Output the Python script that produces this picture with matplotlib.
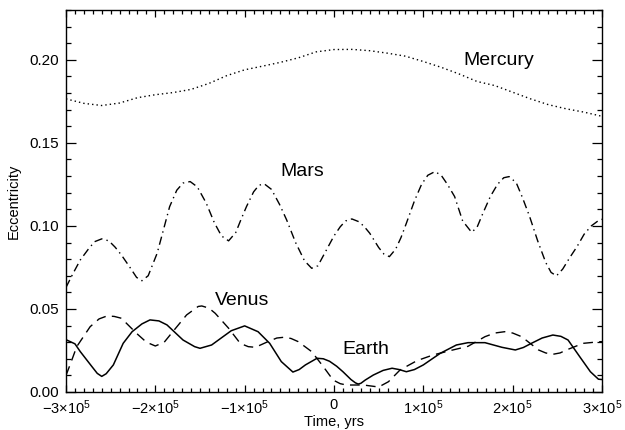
import numpy as np
import matplotlib
matplotlib.use('Agg')
import matplotlib.pyplot as plt
from matplotlib.ticker import MultipleLocator, FixedLocator

plt.rcParams['font.family'] = ['Liberation Sans', 'DejaVu Sans']
plt.rcParams['mathtext.fontset'] = 'custom'
plt.rcParams['mathtext.rm'] = 'Liberation Sans'
plt.rcParams['mathtext.it'] = 'Liberation Sans'

# time in units of 1e4 years, eccentricity
mercury_t = [-30, -28, -26, -24, -22, -20, -18, -16, -14, -12, -10, -8, -6, -4, -2,
             0, 2, 4, 6, 8, 10, 12, 14, 16, 18, 20, 22, 24, 26, 28, 30]
mercury_e = [0.1765, 0.1738, 0.1725, 0.1740, 0.1772, 0.1790, 0.1803, 0.1822, 0.1858,
             0.1905, 0.1940, 0.1962, 0.1985, 0.2012, 0.2048, 0.2062, 0.2063, 0.2055,
             0.2040, 0.2022, 0.1990, 0.1955, 0.1915, 0.1870, 0.1845, 0.1805, 0.1765,
             0.1730, 0.1705, 0.1685, 0.1660]

mars_t = [-30, -29.2, -28.4, -27.5, -26.8, -26.0, -25.2, -24.5, -23.8, -22.9, -22.1,
          -21.5, -20.8, -19.8, -19.1, -18.4, -17.6, -16.9, -16.1, -15.3, -14.3, -13.4,
          -12.6, -11.8, -11.0, -10.4, -9.8, -9.0, -8.4, -7.8, -7.0, -6.1, -5.3, -4.3,
          -3.3, -2.5, -1.8, -0.9, 0.0, 0.7, 1.3, 2.0, 2.8, 3.4, 4.0, 5.0, 5.6, 6.2,
          6.9, 7.5, 8.1, 9.0, 9.8, 10.5, 11.3, 12.0, 12.7, 13.5, 14.4, 15.4, 16.0,
          16.7, 17.5, 18.3, 19.0, 19.6, 20.4, 21.1, 21.9, 22.8, 23.7, 24.3, 24.9,
          25.6, 26.4, 27.2, 28.0, 28.8, 29.6, 30.0]
mars_e = [0.0630, 0.0715, 0.0795, 0.0860, 0.0905, 0.0922, 0.0910, 0.0872, 0.0825,
          0.0755, 0.0690, 0.0670, 0.0700, 0.0835, 0.0975, 0.1116, 0.1215, 0.1258,
          0.1267, 0.1235, 0.1137, 0.1020, 0.0940, 0.0910, 0.0960, 0.1040, 0.1116,
          0.1205, 0.1245, 0.1253, 0.1220, 0.1130, 0.1036, 0.0900, 0.0790, 0.0745,
          0.0760, 0.0850, 0.0940, 0.0995, 0.1030, 0.1042, 0.1025, 0.0995, 0.0956,
          0.0870, 0.0830, 0.0815, 0.0860, 0.0930, 0.1016, 0.1150, 0.1250, 0.1305,
          0.1327, 0.1305, 0.1250, 0.1177, 0.1030, 0.0962, 0.0990, 0.1080, 0.1177,
          0.1250, 0.1290, 0.1297, 0.1260, 0.1170, 0.1056, 0.0910, 0.0780, 0.0720,
          0.0699, 0.0740, 0.0810, 0.0875, 0.0950, 0.1000, 0.1032, 0.1040]

venus_t = [-30, -29.5, -28.8, -27.3, -26.3, -25.4, -24.6, -23.8, -22.1, -21.0, -20.0,
           -19.0, -18.2, -16.5, -15.2, -14.8, -14.0, -13.3, -11.8, -10.5, -9.6, -8.8,
           -7.4, -6.4, -5.5, -4.8, -4.0, -2.5, -1.2, -0.1, 0.7, 1.4, 3.3, 5.0, 6.1,
           7.4, 9.3, 11.1, 13.0, 15.0, 16.9, 18.0, 19.1, 20.0, 21.0, 22.9, 23.7, 24.5,
           25.3, 26.2, 27.9, 29.8, 30.0]
venus_e = [0.0100, 0.0170, 0.0273, 0.0393, 0.0440, 0.0458, 0.0455, 0.0444, 0.0353,
           0.0300, 0.0277, 0.0300, 0.0353, 0.0464, 0.0515, 0.0518, 0.0505, 0.0474,
           0.0384, 0.0293, 0.0273, 0.0269, 0.0303, 0.0325, 0.0330, 0.0322, 0.0303,
           0.0243, 0.0153, 0.0072, 0.0050, 0.0042, 0.0042, 0.0030, 0.0062, 0.0133,
           0.0189, 0.0223, 0.0249, 0.0275, 0.0333, 0.0355, 0.0363, 0.0355, 0.0333,
           0.0253, 0.0235, 0.0227, 0.0235, 0.0257, 0.0293, 0.0303, 0.0303]

earth_t = [-30, -29, -28.4, -27.1, -26.5, -26.0, -25.5, -24.7, -23.6, -22.6, -21.5,
           -20.6, -19.6, -18.7, -16.9, -15.6, -15.0, -13.7, -12.5, -11.5, -10.0, -8.5,
           -7.2, -5.9, -4.6, -3.9, -3.2, -1.9, -1.2, -0.5, 0.3, 1.0, 1.9, 2.4, 2.7,
           3.0, 3.5, 4.4, 5.5, 6.5, 7.3, 8.1, 9.0, 10.0, 11.0, 11.9, 13.7, 15.0, 16.9,
           18.8, 20.3, 21.2, 22.1, 23.3, 24.5, 25.4, 26.2, 27.5, 28.7, 29.6, 30.0]
earth_e = [0.0315, 0.0290, 0.0243, 0.0153, 0.0112, 0.0094, 0.0110, 0.0163, 0.0293,
           0.0363, 0.0410, 0.0434, 0.0428, 0.0404, 0.0313, 0.0273, 0.0263, 0.0283,
           0.0330, 0.0369, 0.0398, 0.0363, 0.0293, 0.0183, 0.0120, 0.0135, 0.0163,
           0.0203, 0.0200, 0.0185, 0.0155, 0.0122, 0.0075, 0.0055, 0.0048, 0.0052,
           0.0072, 0.0102, 0.0130, 0.0143, 0.0135, 0.0122, 0.0135, 0.0163, 0.0200,
           0.0233, 0.0283, 0.0297, 0.0297, 0.0269, 0.0253, 0.0268, 0.0293, 0.0325,
           0.0343, 0.0335, 0.0313, 0.0213, 0.0122, 0.0077, 0.0075]

xticks = [-3e5, -2e5, -1e5, 0, 1e5, 2e5, 3e5]
xtick_labels = [r'$-3{\times}10^{5}$', r'$-2{\times}10^{5}$', r'$-1{\times}10^{5}$', '0',
                r'$1{\times}10^{5}$', r'$2{\times}10^{5}$', r'$3{\times}10^{5}$']
yticks = [0.00, 0.05, 0.10, 0.15, 0.20]

fig = plt.figure(figsize=(6.25, 4.30), dpi=100)
ax = fig.add_axes([0.1056, 0.0884, 0.8576, 0.8883])

ax.plot(np.array(mercury_t) * 1e4, mercury_e, color='k', lw=1.0, ls=(0, (1, 2.2)))
ax.plot(np.array(mars_t) * 1e4, mars_e, color='k', lw=1.0, ls=(0, (6, 3, 1, 3)))
ax.plot(np.array(venus_t) * 1e4, venus_e, color='k', lw=1.0, ls=(0, (7, 4.5)))
ax.plot(np.array(earth_t) * 1e4, earth_e, color='k', lw=1.1, ls='-')

ax.set_xlim(-3e5, 3e5)
ax.set_ylim(0, 0.23)
ax.xaxis.set_major_locator(FixedLocator(xticks))
ax.set_xticklabels(xtick_labels)
ax.xaxis.set_minor_locator(MultipleLocator(1e4))
ax.set_yticks(yticks)
ax.set_yticklabels(['0.00', '0.05', '0.10', '0.15', '0.20'])
ax.yaxis.set_minor_locator(MultipleLocator(0.01))

ax.tick_params(which='both', direction='in', top=True, right=True, width=0.9,
               labelsize=11, colors='k')
ax.tick_params(axis='y', which='major', length=7, pad=5)
ax.tick_params(axis='y', which='minor', length=3.5)
ax.tick_params(axis='x', which='major', length=5, pad=4.5, labelsize=10.5)
ax.tick_params(axis='x', which='minor', length=3)
for s in ax.spines.values():
    s.set_linewidth(1.0)

ax.text(1.84e5, 0.1994, 'Mercury', fontsize=14, ha='center', va='center')
ax.text(-0.36e5, 0.1325, 'Mars', fontsize=14, ha='center', va='center')
ax.text(-1.03e5, 0.0548, 'Venus', fontsize=14, ha='center', va='center')
ax.text(0.36e5, 0.0253, 'Earth', fontsize=14, ha='center', va='center')

ax.set_xlabel('Time, yrs', fontsize=10.5, labelpad=-1)
ax.set_ylabel('Eccentricity', fontsize=10.5, labelpad=6)

fig.savefig('out.png', dpi=100)
